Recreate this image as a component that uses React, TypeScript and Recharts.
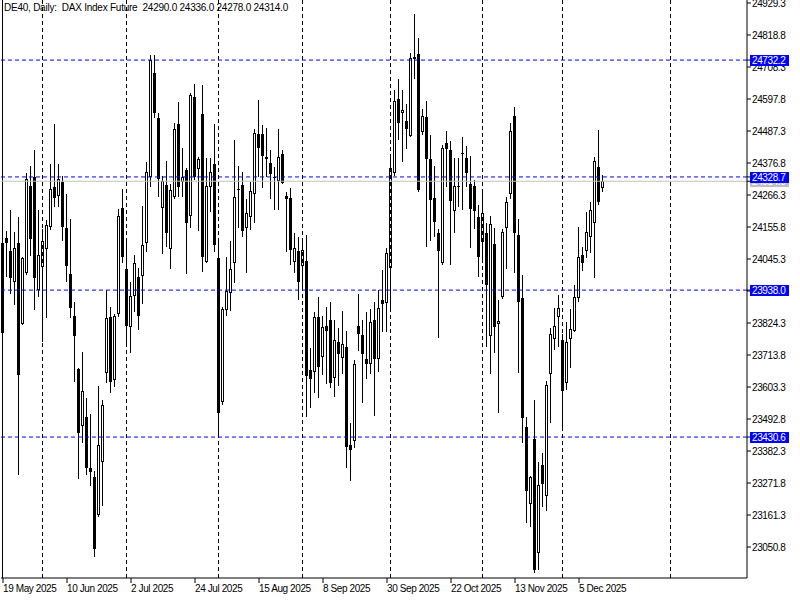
import React from 'react';
import { ComposedChart, Bar, XAxis, YAxis, ReferenceLine } from 'recharts';

const opens = [24101,24118,24073,23966,24101,23821,23997,24297,24329,23938,24018,24080,24156,24294,24263,24311,24152,23994,23849,23666,23469,23500,23324,23293,23161,23344,23652,23845,23628,23855,24221,24011,23811,23918,23983,23987,24101,24329,24688,24532,24221,24301,24080,24259,24512,24311,24353,24194,24605,24356,24546,24035,24294,24373,24049,23552,23869,23928,24032,24284,24301,24152,24190,24270,24477,24477,24398,24377,24329,24315,24408,24263,24256,24035,24073,24021,24038,23662,23655,23845,23707,23814,23835,23634,23759,23704,23742,23403,23417,23814,23783,23700,23683,23835,23700,23904,23893,24014,24342,24598,24550,24522,24470,24743,24753,24484,24536,24391,24256,24135,24032,24446,24422,24211,24297,24408,24394,24304,24297,24190,24104,24135,23779,24097,23821,23914,24152,24270,24539,24128,23911,23465,23199,23424,23030,23334,23227,23648,23769,23845,23766,23617,23769,23797,23911,24059,24073,24121,24170,24363,24290];
const highs = [24146,24142,24215,24139,24190,24052,24342,24367,24422,24215,24149,24180,24373,24512,24373,24332,24270,24184,23897,23669,23724,23565,23510,23313,23607,23559,23938,23880,23855,24218,24287,24104,23966,24059,24014,24228,24380,24750,24750,24550,24332,24384,24304,24515,24587,24429,24360,24619,24650,24398,24646,24394,24394,24512,24104,23880,24052,24108,24456,24367,24346,24253,24311,24494,24594,24508,24498,24422,24363,24494,24422,24277,24291,24135,24121,24111,24128,23738,23862,23914,23849,23880,23897,23835,23807,23866,23797,23479,23697,23925,23835,23862,23873,23897,23938,24007,24083,24394,24629,24667,24629,24581,24757,24891,24808,24563,24591,24474,24367,24149,24439,24487,24453,24394,24394,24467,24436,24401,24318,24232,24284,24170,24194,24152,23904,24149,24259,24515,24570,24184,23990,23500,23296,23559,23344,23376,23624,23807,23876,23921,23786,23828,23873,23956,24156,24087,24208,24242,24398,24491,24336];
const lows = [23783,23983,23925,23887,23300,23817,23990,24056,23869,23914,23759,23842,24146,24225,24225,24108,23966,23842,23621,23286,23410,23300,23262,23016,23155,23192,23617,23583,23603,23845,24032,23742,23721,23862,23800,23890,24070,24294,24532,24259,24063,24087,24011,24253,24259,24259,23994,24152,24318,24142,24000,24032,24208,24070,23427,23541,23849,23866,23963,24152,24121,23997,24146,24170,24329,24291,24329,24253,24215,24215,24304,24070,24025,23997,23904,23949,23500,23531,23583,23565,23645,23614,23600,23569,23607,23648,23324,23279,23393,23728,23548,23631,23648,23503,23655,23793,23793,23866,24332,24456,24380,24425,24467,24667,24277,24474,24087,24108,24121,23773,24025,24294,24025,24135,24225,24215,24294,24083,24149,23983,24035,23742,23648,23721,23514,23907,24011,24253,23997,23652,23410,23134,23120,22961,22972,23189,23175,23479,23731,23742,23455,23593,23669,23793,23897,24004,24049,24066,23980,24232,24278];
const closes = [23790,24101,23980,24083,23645,24049,24322,24114,23980,24059,24108,24163,24287,24256,24322,24156,24021,23876,23779,23445,23590,23324,23310,23044,23403,23541,23842,23621,23849,24194,24052,23814,23918,24032,23849,24094,24346,24732,24550,24322,24315,24135,24284,24494,24294,24329,24170,24612,24329,24391,24052,24297,24346,24094,23514,23873,23935,24011,24259,24287,24142,24204,24280,24480,24429,24401,24391,24339,24330,24398,24308,24253,24076,24083,23966,24076,23641,23631,23845,23672,23811,23797,23617,23766,23717,23752,23396,23386,23683,23786,23717,23683,23828,23700,23876,23890,24066,24360,24591,24515,24560,24494,24739,24736,24284,24539,24391,24249,24173,24073,24429,24425,24246,24297,24299,24410,24342,24218,24211,24052,24204,23956,24166,23811,23831,24139,24242,24487,24135,23897,23496,23244,23293,22972,23265,23268,23610,23786,23814,23876,23590,23759,23804,23914,24052,24032,24139,24215,24384,24242,24314];

const dateTickIndex = [0, 16, 32, 48, 64, 80, 96, 112, 128, 144];
const dateTickLabels = ['19 May 2025', '10 Jun 2025', '2 Jul 2025', '24 Jul 2025', '15 Aug 2025', '8 Sep 2025', '30 Sep 2025', '22 Oct 2025', '13 Nov 2025', '5 Dec 2025'];
const monthStartIndex = [10, 31, 54, 75, 97, 120, 140, 167];
const priceTicks = [24929.3, 24818.8, 24708.3, 24597.8, 24487.3, 24376.8, 24266.3, 24155.8, 24045.3, 23934.8, 23824.3, 23713.8, 23603.3, 23492.8, 23382.3, 23271.8, 23161.3, 23050.8];
const levelLines = [24732.2, 24328.7, 23938.0, 23430.6];
const lastPrice = 24314.0;
const titleText = 'DE40, Daily:  DAX Index Future  24290.0 24336.0 24278.0 24314.0';

const data = opens.map((o, i) => ({ i, o, h: highs[i], l: lows[i], c: closes[i], range: [lows[i], highs[i]] }));

const FONT = "'Liberation Sans', Arial, sans-serif";
const FS = 10;
const LS = -0.4;

const Candle = (props: any) => {
  const { x, y, width, height, payload } = props;
  if (x == null || y == null) return null;
  const { o, h, l, c } = payload;
  const cx = Math.floor(x + width / 2) + 0.5;
  const top = Math.min(y, y + height);
  const hgt = Math.abs(height);
  const span = h - l || 1;
  const py = (v: number) => top + ((h - v) / span) * hgt;
  const yT = Math.round(py(Math.max(o, c)));
  const yB = Math.round(py(Math.min(o, c)));
  const up = c >= o;
  return (
    <g>
      <line x1={cx} x2={cx} y1={Math.round(top)} y2={Math.round(top + hgt)} stroke="#000" strokeWidth={1} />
      {up ? (
        <rect x={cx - 1} y={yT + 0.5} width={2} height={Math.max(yB - yT - 1, 0.01)} fill="#fff" stroke="#000" strokeWidth={1} />
      ) : (
        <rect x={cx - 1.5} y={yT} width={3} height={Math.max(yB - yT, 1)} fill="#000" />
      )}
    </g>
  );
};

const XTick = (props: any) => {
  const { x, y, payload } = props;
  const idx = dateTickIndex.indexOf(payload.value);
  return (
    <text x={x} y={y} dy="0.71em" textAnchor="start" fontSize={FS} fontFamily={FONT} letterSpacing={LS} fill="#000">
      {idx >= 0 ? dateTickLabels[idx] : ''}
    </text>
  );
};

const YTick = (props: any) => {
  const { x, y, payload } = props;
  const v: number = payload.value;
  const isLevel = levelLines.indexOf(v) >= 0;
  const isLast = v === lastPrice;
  if (isLevel || isLast) {
    const by = Math.round(y);
    return (
      <g>
        <rect x={x - 2} y={by - 5} width={39} height={11} fill={isLevel ? '#0000FF' : '#C0C0C0'} />
        <text x={x} y={by + 4} fontSize={FS} fontFamily={FONT} letterSpacing={LS} fill="#fff">
          {v.toFixed(1)}
        </text>
      </g>
    );
  }
  return (
    <text x={x} y={y} dy="0.355em" textAnchor="start" fontSize={FS} fontFamily={FONT} letterSpacing={LS} fill="#000">
      {v.toFixed(1)}
    </text>
  );
};

const yTicksAll = [...priceTicks, lastPrice, ...levelLines];

export default function App() {
  return (
    <div style={{ position: 'absolute', left: 0, top: 0, width: 800, height: 600, background: '#fff' }}>
      <ComposedChart width={800} height={600} data={data} margin={{ top: 0, right: 0, bottom: 0, left: 1 }}>
        <XAxis
          dataKey="i"
          type="number"
          domain={[-0.5, 186]}
          allowDataOverflow
          ticks={dateTickIndex}
          tick={<XTick />}
          tickSize={5}
          tickMargin={2}
          height={22}
          stroke="#000"
          axisLine={{ stroke: '#000' }}
          tickLine={{ stroke: '#000' }}
          interval={0}
        />
        <YAxis
          orientation="right"
          type="number"
          domain={[22943.9, 24939.7]}
          allowDataOverflow
          ticks={yTicksAll}
          interval={0}
          width={53}
          tickSize={4}
          tickMargin={1}
          tick={<YTick />}
          axisLine={{ stroke: '#000' }}
          tickLine={{ stroke: '#000' }}
        />
        <ReferenceLine x={-0.125} stroke="#000" strokeWidth={1} />
        {monthStartIndex.map((m) => (
          <ReferenceLine key={'m' + m} x={m - 0.125} stroke="#000" strokeDasharray="4 3" strokeWidth={1} />
        ))}
        <ReferenceLine y={lastPrice} stroke="#C0C0C0" strokeWidth={1} />
        {levelLines.map((v) => (
          <ReferenceLine key={'l' + v} y={v} stroke="#0000FF" strokeDasharray="4 3" strokeWidth={1} />
        ))}
        <Bar dataKey="range" barSize={3} shape={<Candle />} isAnimationActive={false} />
      </ComposedChart>
      <div style={{ position: 'absolute', left: 4, top: 2, fontFamily: FONT, fontSize: FS, letterSpacing: '-0.24px', color: '#000', whiteSpace: 'pre', lineHeight: '12px' }}>
        {titleText}
      </div>
    </div>
  );
}
